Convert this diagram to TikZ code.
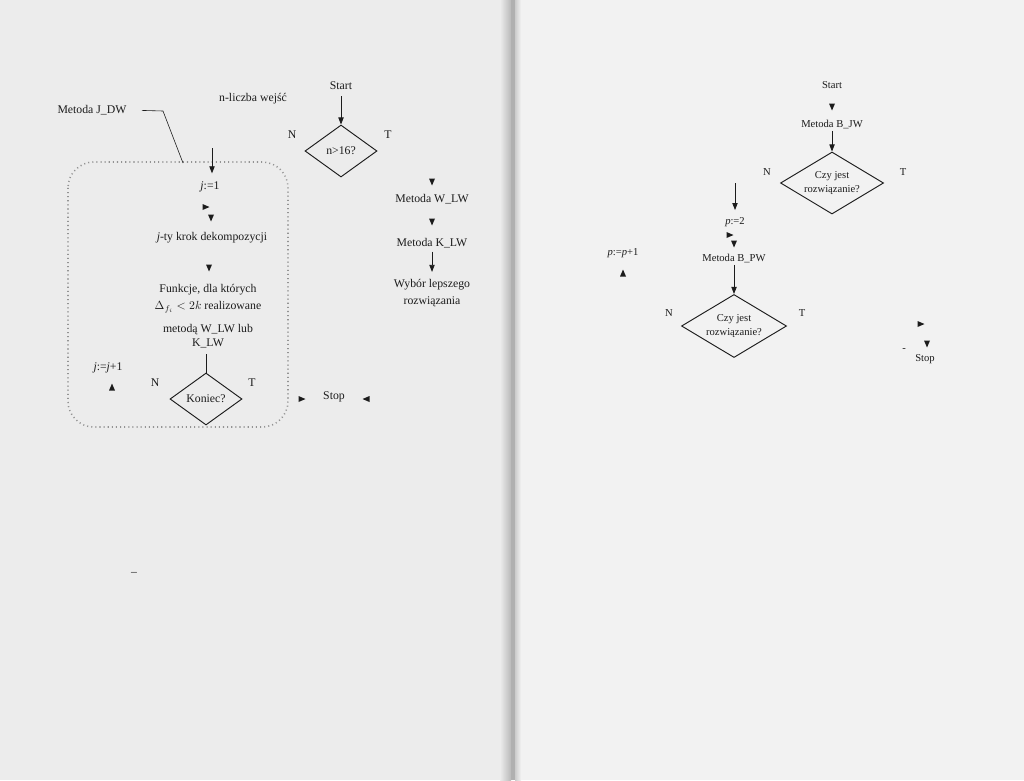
\documentclass[tikz,border=0pt]{standalone}
\usepackage{fontspec}
\setmainfont{Liberation Serif}
\usetikzlibrary{arrows.meta,shapes.geometric}
\definecolor{pageL}{RGB}{236,236,236}
\definecolor{pageR}{RGB}{242,242,242}
\definecolor{ink}{RGB}{28,28,28}
\begin{document}
\begin{tikzpicture}[x=0.85pt,y=-0.85pt,
  txt/.style={inner sep=0pt, font=\fontsize{10}{14.5}\selectfont, text=ink, align=center},
  txtR/.style={inner sep=0pt, font=\fontsize{9}{12.5}\selectfont, text=ink, align=center},
  dec/.style={draw=ink, line width=0.8pt, diamond, inner sep=0pt, align=center, text=ink},
  arr/.style={draw=ink, line width=0.7pt, -{Triangle[length=6pt,width=4.5pt]}},
  ln/.style={draw=ink, line width=0.7pt},
  tipD/.pic={\fill[ink] (-3,-3.5) -- (3,-3.5) -- (0,3.5) -- cycle;},
  tipU/.pic={\fill[ink] (-3,3.5) -- (3,3.5) -- (0,-3.5) -- cycle;},
  tipR/.pic={\fill[ink] (-3.5,-3) -- (-3.5,3) -- (3.5,0) -- cycle;},
  tipL/.pic={\fill[ink] (3.5,-3) -- (3.5,3) -- (-3.5,0) -- cycle;},
  loopbox/.style={draw=gray!85, line width=1.3pt, dash pattern=on 0.9pt off 2.6pt, rounded corners=22pt}
]
\useasboundingbox (0,0) rectangle (1024,780);
% pages
\fill[pageL] (0,0) rectangle (513,780);
\fill[pageR] (513,0) rectangle (1024,780);
\shade[left color=pageL, right color=gray!55] (500,0) rectangle (511,780);
\fill[gray!62] (511,0) rectangle (515,780);
\shade[left color=gray!40, right color=pageR] (515,0) rectangle (521,780);

% ---------------- left page ----------------
\node[txt] (jdw) at (92,110) {Metoda J\_DW};
\node[txt] (nlw) at (253,99) {n-liczba wejść};
\node[txt] (startL) at (341,86) {Start};
\node[dec, minimum width=61.2pt, minimum height=44.2pt] (d1) at (341,151) {n>16?};
\draw[arr, shorten <=5pt] (startL) -- (d1.north);
\node[txt] (nL1) at (292,135) {N};
\node[txt] (tL1) at (388,135) {T};
\pic at (432,182) {tipD};
\node[txt] (wlw) at (432,199) {Metoda W\_LW};
\pic at (432,222) {tipD};
\node[txt] (klw) at (432,243) {Metoda K\_LW};
\node[txt, anchor=north] (wyb) at (432,279) {Wybór lepszego\\rozwiązania};
\draw[arr, shorten <=3pt, shorten >=6pt] (klw) -- (wyb);
\node[txt] (stopL) at (334,397) {Stop};
\pic at (302,399) {tipR};
\pic at (366,399) {tipL};

% loop box
\draw[loopbox] (68,162) rectangle (288,427);
\coordinate (jdwend) at (183,163);
\draw[ln, line width=0.5pt, shorten <=13pt] (jdw.east) -- (163,111) -- (jdwend);

\coordinate (jin) at (212,148);
\node[txt] (j1) at (210,187) {\textit{j}:=1};
\draw[arr, shorten >=7pt] (jin) -- (jin |- j1.north);
\pic at (206,207) {tipR};
\pic at (211,218) {tipD};
\node[txt] (jkrok) at (212,238) {\textit{j}-ty krok dekompozycji};
\pic at (209,268) {tipD};
\node[txt, anchor=north] (funk) at (208,284) {Funkcje, dla których\\
  \(\Delta_{f_i}<2k\) realizowane\\[5pt] metodą W\_LW lub\\[-2.5pt] K\_LW};
\node[dec, minimum width=61.2pt, minimum height=44.2pt] (d2) at (206,399) {Koniec?};
\draw[ln, shorten <=5pt] (funk.south -| d2.north) -- (d2.north);
\node[txt] (nL2) at (155,383) {N};
\node[txt] (tL2) at (252,383) {T};
\node[txt] (jj) at (108,368) {\textit{j}:=\textit{j}+1};
\pic at (112,387) {tipU};
\node[txt] (dash) at (134,574) {–};

% ---------------- right page ----------------
\node[txtR] (startR) at (832,85) {Start};
\pic at (832,107) {tipD};
\node[txtR] (bjw) at (832,125) {Metoda B\_JW};
\node[dec, aspect=1.66, minimum width=87.6pt, minimum height=52.7pt,
      font=\fontsize{9}{12.5}\selectfont] (d3) at (832,183) {Czy jest\\rozwiązanie?};
\draw[arr, shorten <=1pt] (bjw) -- (d3.north);
\node[txtR] (nR1) at (767,172) {N};
\node[txtR] (tR1) at (903,172) {T};
\coordinate (pin) at (735,183);
\node[txtR] (p2) at (735,222) {\textit{p}:=2};
\draw[arr, shorten >=6pt] (pin) -- (pin |- p2.north);
\pic at (730,235) {tipR};
\pic at (734,244) {tipD};
\node[txtR] (bpw) at (734,259) {Metoda B\_PW};
\node[dec, aspect=1.66, minimum width=89.3pt, minimum height=53.6pt,
      font=\fontsize{9}{12.5}\selectfont] (d4) at (734,326) {Czy jest\\rozwiązanie?};
\draw[arr, shorten <=1pt] (bpw) -- (d4.north);
\node[txtR] (nR2) at (669,313) {N};
\node[txtR] (tR2) at (802,313) {T};
\node[txtR] (pp) at (623,253) {\textit{p}:=\textit{p}+1};
\pic at (623,273) {tipU};
\pic at (921,324) {tipR};
\node[txtR] (dashR) at (904,350) {-};
\pic at (927,344) {tipD};
\node[txtR] (stopR) at (925,359) {Stop};
\end{tikzpicture}
\end{document}
